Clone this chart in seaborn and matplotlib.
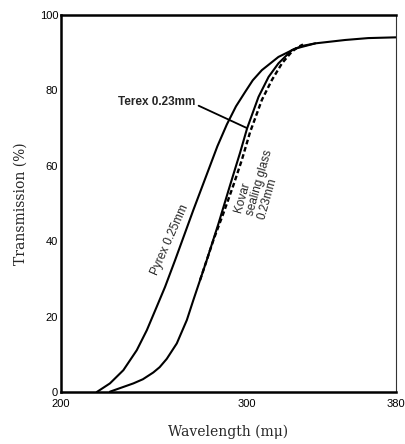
import matplotlib
matplotlib.use('Agg')
import matplotlib.pyplot as plt
import seaborn as sns

# Values
pyrex_wl = [219.2, 226.3, 233.5, 240.7, 246.1, 251.4, 255.9, 261.3, 271.1,
            279.2, 284.0, 289.1, 294.0, 298.9, 303.0, 307.9, 316.8, 325.8,
            336.6, 352.7, 365.0, 380.0]
pyrex_t = [0.0, 2.3, 5.8, 11.1, 16.4, 22.6, 27.9, 35.0, 48.3,
           58.9, 65.2, 71.0, 75.8, 79.6, 82.7, 85.4, 88.9, 91.1,
           92.5, 93.4, 93.9, 94.1]

terex_wl = [226.3, 238.9, 244.0, 249.6, 253.0, 256.8, 262.2, 267.6, 271.1,
            274.7, 278.3, 284.6, 290.9, 296.2, 300.0, 306.1, 311.5, 316.8,
            324.0, 329.4, 336.6]
terex_t = [0.1, 2.3, 3.4, 5.2, 6.6, 8.8, 12.9, 19.1, 24.4,
           29.7, 35.0, 44.7, 55.0, 63.5, 70.0, 78.3, 83.6, 87.2,
           90.7, 91.8, 92.5]

kovar_wl = [274.7, 278.3, 282.0, 287.3, 292.7, 297.1, 301.6, 307.9, 313.3,
            318.7, 324.0, 327.6, 330.0]
kovar_t = [29.7, 35.0, 40.5, 47.5, 55.0, 61.5, 69.0, 77.5, 82.8,
           87.2, 90.3, 91.6, 92.2]

x_ticks = [200, 220, 240, 260, 280, 300, 320, 340, 360, 380]
x_labels = ['200', '', '', '', '', '300', '', '', '', '380']
y_ticks = [0, 20, 40, 60, 80, 100]

sns.set_style('white')
sans_font = ['Liberation Sans', 'DejaVu Sans']
serif_font = ['DejaVu Serif']

fig = plt.figure(figsize=(4.05, 4.44), dpi=100)
ax = fig.add_axes([0.1506, 0.117, 0.8274, 0.849])

sns.lineplot(x=pyrex_wl, y=pyrex_t, ax=ax, color='black', linewidth=1.5)
sns.lineplot(x=terex_wl, y=terex_t, ax=ax, color='black', linewidth=1.5)
sns.lineplot(x=kovar_wl, y=kovar_t, ax=ax, color='black', linewidth=1.7,
             linestyle=(0, (2, 1.2)))

ax.set_xlim(200, 380)
ax.set_ylim(0, 100)
ax.set_xticks(x_ticks)
ax.set_xticklabels(x_labels, family=sans_font, fontsize=8)
ax.set_yticks(y_ticks)
ax.set_yticklabels([str(v) for v in y_ticks], family=sans_font, fontsize=8)
ax.tick_params(axis='both', direction='in', length=4, width=1.6, colors='black')
ax.tick_params(axis='x', pad=5)
ax.tick_params(axis='y', pad=2)

for side in ['left', 'bottom', 'top']:
    ax.spines[side].set_linewidth(1.8)
    ax.spines[side].set_color('black')
ax.spines['right'].set_linewidth(0.8)
ax.spines['right'].set_color('#333333')

ax.set_xlabel('Wavelength (mμ)', family=serif_font, fontsize=10, labelpad=11)
ax.set_ylabel('Transmission (%)', family=serif_font, fontsize=10, labelpad=9)

# curve annotations
ax.annotate('Terex 0.23mm', xy=(300.0, 70.0), xytext=(230.6, 77.0),
            fontsize=8.5, fontweight='bold', family=sans_font, va='center',
            arrowprops=dict(arrowstyle='-', color='black', lw=1.3,
                            shrinkA=0, shrinkB=0, relpos=(1.0, 0.3)))
ax.text(258.6, 40.3, 'Pyrex 0.25mm', rotation=66, fontsize=8.5,
        family=sans_font, ha='center', va='center')
ax.text(306.5, 55.5, 'Kovar\nsealing glass\n0.23mm', rotation=74,
        fontsize=8.5, family=sans_font, ha='center', va='center',
        multialignment='left', linespacing=1.0)

fig.savefig('out.png', dpi=100)
